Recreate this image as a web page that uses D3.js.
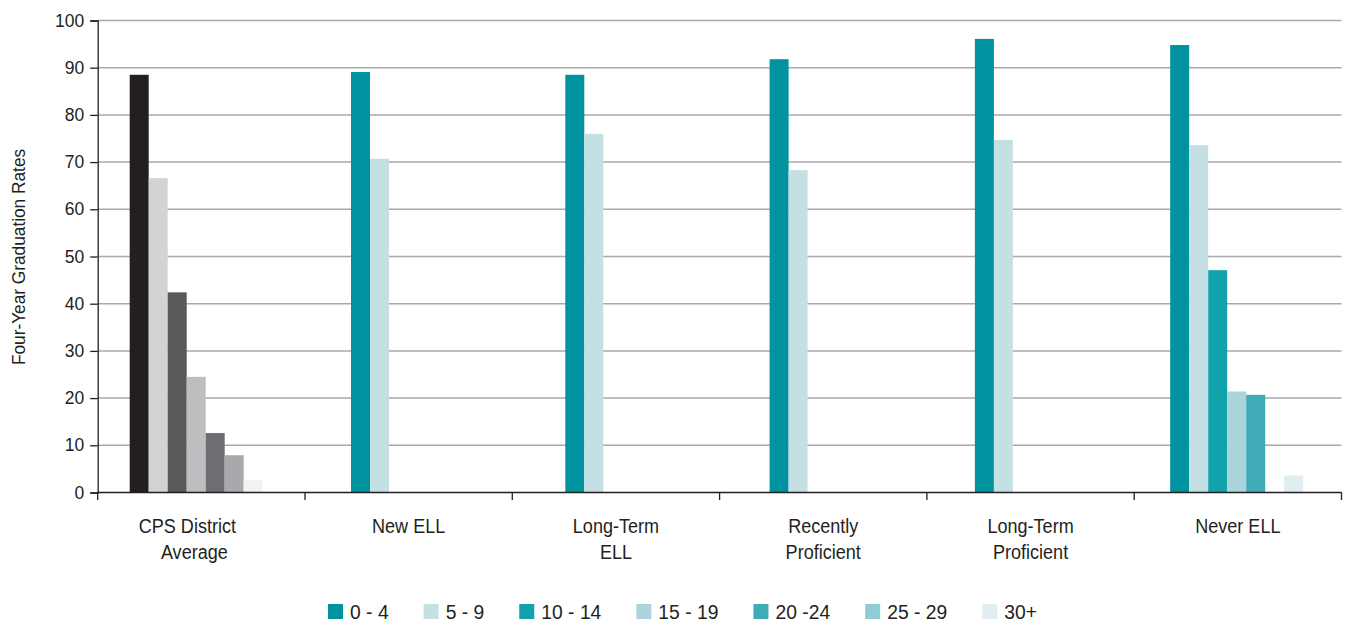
<!DOCTYPE html>
<html><head><meta charset="utf-8">
<script src="https://cdn.jsdelivr.net/npm/d3@7"></script>
<style>
body{margin:0;background:#fff;}
text{font-family:"Liberation Sans",Arial,Helvetica,sans-serif;fill:#231f20;}
</style></head>
<body><svg id="chart" width="1346" height="625"></svg>
<script>
const categories = [["CPS District","Average"],["New ELL"],["Long-Term","ELL"],["Recently","Proficient"],["Long-Term","Proficient"],["Never ELL"]];
const series = ["0 - 4","5 - 9","10 - 14","15 - 19","20 -24","25 - 29","30+"];
const v0_4   = [88.5, 89.1, 88.5, 91.8, 96.1, 94.8];
const v5_9   = [66.6, 70.7, 76.0, 68.3, 74.7, 73.6];
const v10_14 = [42.4, null, null, null, null, 47.1];
const v15_19 = [24.5, null, null, null, null, 21.4];
const v20_24 = [12.6, null, null, null, null, 20.7];
const v25_29 = [7.9, null, null, null, null, null];
const v30    = [2.6, null, null, null, null, 3.6];
const yTicks = [0,10,20,30,40,50,60,70,80,90,100];
const teal = ["#00929f","#c5e0e5","#12a2ac","#acd5db","#3eabb6","#8fccd3","#e0eef2"];
const grey = ["#231f20","#d1d3d4","#58595b","#bcbec0","#6d6e71","#a7a9ac","#f1f2f2"];

(function(){
const allVals = [v0_4,v5_9,v10_14,v15_19,v20_24,v25_29,v30];
const svg = d3.select("#chart");
const mLeft = 97.7, mRight = 1341.5, mTop = 20.5, mBottom = 492.5;
const catIdx = categories.map((c,i)=>i);
const x0 = d3.scaleBand().domain(catIdx).range([mLeft,mRight]).padding(0);
const barW = 19;
const x1 = d3.scaleBand().domain(series).range([36, 36+barW*series.length]).padding(0);
const nudge = [-4,10,17,14,12,0];
const y = d3.scaleLinear().domain([0,100]).range([mBottom,mTop]);

// gridlines
svg.append("g").selectAll("line").data(yTicks.filter(t=>t>0)).join("line")
  .attr("x1",mLeft).attr("x2",mRight).attr("y1",d=>y(d)).attr("y2",d=>y(d))
  .attr("stroke","#a7a9ac").attr("stroke-width",1.5);

// bars
const barData = [];
catIdx.forEach(ci=>{
  series.forEach((s,si)=>{
    const v = allVals[si][ci];
    if(v!=null) barData.push({ci,si,s,v});
  });
});
svg.append("g").selectAll("rect").data(barData).join("rect")
  .attr("x",d=>x0(d.ci)+x1(d.s)+nudge[d.ci])
  .attr("width",x1.bandwidth())
  .attr("y",d=>y(d.v)).attr("height",d=>y(0)-y(d.v))
  .attr("fill",d=>d.ci===0?grey[d.si]:teal[d.si]);

// y axis
const yAxis = svg.append("g").attr("transform",`translate(${mLeft},0)`)
  .call(d3.axisLeft(y).tickValues(yTicks).tickSize(7.5).tickPadding(6));
yAxis.select(".domain").attr("stroke","#231f20").attr("stroke-width",1.3);
yAxis.selectAll(".tick line").attr("stroke","#231f20").attr("stroke-width",1.3);
yAxis.selectAll(".tick text").attr("font-size",17.5).attr("font-family",null).style("fill","#231f20");

// x axis
const xAxis = svg.append("g").attr("transform",`translate(0,${mBottom})`);
xAxis.append("line").attr("x1",mLeft).attr("x2",mRight).attr("y1",0).attr("y2",0)
  .attr("stroke","#231f20").attr("stroke-width",1.3);
const bounds = catIdx.map(i=>x0(i)).concat([mRight]);
xAxis.selectAll(".xt").data(bounds).join("line").attr("class","xt")
  .attr("x1",d=>d).attr("x2",d=>d).attr("y1",0).attr("y2",7.5)
  .attr("stroke","#231f20").attr("stroke-width",1.3);
const sx = 0.86;
const lbl = xAxis.selectAll(".xl").data(categories).join("text").attr("class","xl")
  .attr("transform",(d,i)=>`translate(${x0(i)+x0.bandwidth()/2 - (i===0?7:0)},40.5) scale(${sx},1)`)
  .attr("text-anchor","middle").attr("font-size",21);
lbl.selectAll("tspan").data((d,i)=>d.map((t,j)=>({t,j,i}))).join("tspan")
  .attr("x",d=>(d.i===0&&d.j===0)?-7/sx:0)
  .attr("dy",d=>d.j===0?0:26.5).text(d=>d.t);

// y title
svg.append("text").attr("transform",`translate(25,257) rotate(-90) scale(0.96,1)`)
  .attr("text-anchor","middle").attr("font-size",18).text("Four-Year Graduation Rates");

// legend
const lsx = 0.92;
const leg = svg.append("g").attr("transform","translate(328,604)");
let lx = 0;
series.forEach((s,i)=>{
  const g = leg.append("g").attr("transform",`translate(${lx},0)`);
  g.append("rect").attr("width",15).attr("height",15).attr("fill",teal[i]);
  const t = g.append("text").attr("transform",`translate(22,15) scale(${lsx},1)`)
    .attr("font-size",21).text(s);
  lx += 22 + t.node().getComputedTextLength()*lsx + 35;
});
})();
</script></body></html>
